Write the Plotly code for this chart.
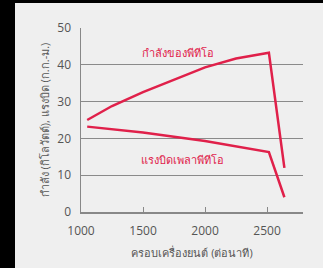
import plotly.graph_objects as go

power_rpm = [1050, 1250, 1500, 1750, 2000, 2250, 2400, 2515, 2640]
power_kw = [25.0, 28.8, 32.6, 36.0, 39.3, 41.7, 42.7, 43.3, 12.0]
torque_rpm = [1050, 1500, 2000, 2515, 2640]
torque_kgm = [23.2, 21.6, 19.3, 16.3, 4.0]
x_ticks = [1000, 1500, 2000, 2500]
y_ticks = [0, 10, 20, 30, 40, 50]

RED = "#e0204a"
GREY_TXT = "#555555"
FONT = "Open Sans, Noto Sans, DejaVu Sans, sans-serif"

fig = go.Figure()
fig.add_trace(go.Scatter(x=power_rpm, y=power_kw, mode="lines",
                         line=dict(color=RED, width=2.5),
                         showlegend=False, hoverinfo="skip"))
fig.add_trace(go.Scatter(x=torque_rpm, y=torque_kgm, mode="lines",
                         line=dict(color=RED, width=2.5),
                         showlegend=False, hoverinfo="skip"))

fig.add_annotation(x=1782, y=43.3, text="กำลังของพีทีโอ", showarrow=False,
                   font=dict(color=RED, size=11, family=FONT))
fig.add_annotation(x=1815, y=14.4, text="แรงบิดเพลาพีทีโอ", showarrow=False,
                   font=dict(color=RED, size=11, family=FONT))

fig.update_layout(
    width=308, height=265,
    margin=dict(l=66, r=20, t=25, b=56, autoexpand=False),
    paper_bgcolor="#efefef", plot_bgcolor="#efefef",
    font=dict(family=FONT, color=GREY_TXT, size=12),
    xaxis=dict(range=[1000, 2790], tickvals=x_ticks, showgrid=False, automargin=False,
               showline=True, linecolor="#888888", linewidth=1.5,
               ticks="inside", ticklen=5, tickcolor="#888888", ticklabelstandoff=7,
               zeroline=False, tickfont=dict(size=12, color=GREY_TXT),
               title=dict(text="ครอบเครื่องยนต์ (ต่อนาที)", font=dict(size=11, color=GREY_TXT), standoff=11)),
    yaxis=dict(range=[0, 50], tickvals=y_ticks, showgrid=True, gridcolor="#8a8a8a", gridwidth=1,
               automargin=False,
               showline=True, linecolor="#888888", linewidth=1.5, zeroline=False,
               tickfont=dict(size=12, color=GREY_TXT), ticks="", ticklabelstandoff=6,
               title=dict(text="กำลัง (กิโลวัตต์), แรงบิด (ก.ก.-ม.)", font=dict(size=11, color=GREY_TXT), standoff=5)),
)

fig.write_html(
    "out.html",
    config={"displayModeBar": False, "staticPlot": True},
    post_script=("document.body.style.margin='0';document.body.style.padding='3px 0 0 15px';"
                 "document.body.style.background='#000';document.body.style.overflow='hidden';"),
)
